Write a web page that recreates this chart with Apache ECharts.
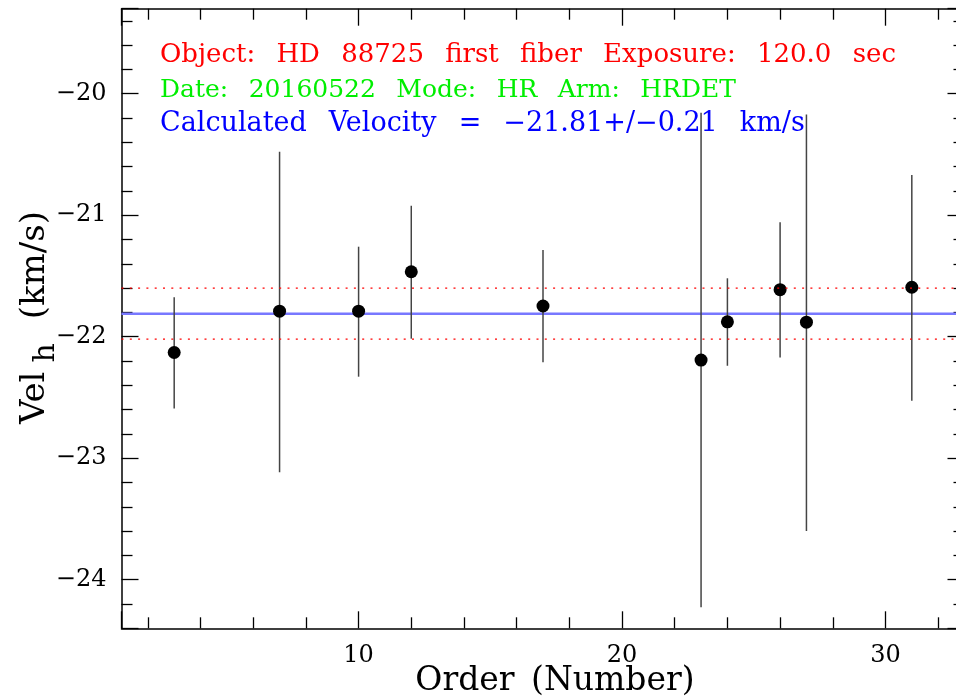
<!DOCTYPE html>
<html><head><meta charset="utf-8">
<script src="https://cdn.jsdelivr.net/npm/echarts@6/dist/echarts.min.js"></script>
<style>html,body{margin:0;padding:0;background:#fff}#c{width:956px;height:698px}</style>
</head><body><div id="c"></div>
<script>
// ---- data ----
const orders     = [3, 7, 10, 12, 17, 23, 24, 26, 27, 31];
const velocities = [-22.13, -21.79, -21.79, -21.465, -21.747, -22.192, -21.877, -21.613, -21.88, -21.593];
const errLow     = [-22.59, -23.116, -22.329, -22.016, -22.211, -24.227, -22.239, -22.170, -23.60, -22.527];
const errHigh    = [-21.676, -20.477, -21.259, -20.922, -21.286, -20.156, -21.519, -21.058, -20.17, -20.669];
const meanVel = -21.81;
const meanErr = 0.21;
const xRange = [1, 33];
const yRange = [-24.4, -19.3];
const xTickValues = [10, 20, 30];
const xTickLabels = ['10', '20', '30'];
const yTickValues = [-24, -23, -22, -21, -20];
const yTickLabels = ['\u221224', '\u221223', '\u221222', '\u221221', '\u221220'];
const infoLines = [
  'Object: HD 88725 first fiber Exposure: 120.0 sec',
  'Date: 20160522 Mode: HR Arm: HRDET',
  'Calculated Velocity = \u221221.81+/\u22120.21 km/s'
];
const xName = 'Order (Number)';
const yNameMain = 'Vel', yNameSub = 'h', yNameUnit = '(km/s)';

const SERIF = '"DejaVu Serif", "Liberation Serif", serif';
const SP = '\u2002 ';
const wide = s => s.replace(/ /g, SP);

const mctx = document.createElement('canvas').getContext('2d');
function textW(t, f) { mctx.font = f; return mctx.measureText(t).width; }

function fmtX(v) { const i = xTickValues.indexOf(v); return i >= 0 ? xTickLabels[i] : ''; }
function fmtY(v) {
  const i = yTickValues.findIndex(t => Math.abs(t - v) < 1e-6);
  return i >= 0 ? yTickLabels[i] : '';
}

function axis(kind, pos, showLabel) {
  const isX = kind === 'x';
  const r = isX ? xRange : yRange;
  return {
    type: 'value', gridIndex: 0, position: pos,
    min: r[0], max: r[1],
    minInterval: isX ? 10 : 1, maxInterval: isX ? 10 : 1,
    splitNumber: isX ? 3 : 5,
    axisLine: { show: true, onZero: false, lineStyle: { color: '#000', width: 1.5 } },
    axisTick: { show: true, inside: true, length: 17, lineStyle: { color: '#000', width: 1.3 } },
    minorTick: { show: true, splitNumber: 5, length: 11, lineStyle: { color: '#000', width: 1.3 } },
    splitLine: { show: false }, minorSplitLine: { show: false },
    axisLabel: {
      show: showLabel, showMinLabel: false, showMaxLabel: false,
      margin: 15, color: '#000', fontFamily: SERIF, fontSize: 24,
      formatter: isX ? fmtX : fmtY
    }
  };
}

// y-axis title pieces (rotated, reading upwards)
const YF = '34px ' + SERIF, YFS = '30px ' + SERIF;
const yStart = 424;
const yVelEnd = yStart - textW(yNameMain, YF);
const ySubStart = yVelEnd - 9;
const ySubEnd = ySubStart - textW(yNameSub, YFS);
const yUnitStart = ySubEnd - 24;

// horizontal reference lines: [value, kind]
const refLines = [
  [meanVel, 0],
  [meanVel + meanErr, 1],
  [meanVel - meanErr, 1]
];
const refStyles = [
  { stroke: '#7878ff', lineWidth: 2.5 },
  { stroke: '#ff0000', lineWidth: 1.2, lineDash: [2, 6.3] }
];

function hLineSeries(kindFilter, z) {
  return {
    type: 'custom', xAxisIndex: 0, yAxisIndex: 0, silent: true, z: z,
    data: refLines.filter(d => d[1] === kindFilter),
    encode: { y: 0 },
    renderItem: (params, api) => {
      const v = api.value(0);
      const a = api.coord([xRange[0], v]);
      const b = api.coord([xRange[1], v]);
      return { type: 'line', shape: { x1: a[0], y1: a[1], x2: b[0], y2: b[1] },
               style: Object.assign({}, refStyles[api.value(1)]) };
    }
  };
}

const chart = echarts.init(document.getElementById('c'), null, { renderer: 'canvas' });
chart.setOption({
  animation: false,
  backgroundColor: '#fff',
  grid: { left: 121.5, top: 8.7, width: 843, height: 619.6, containLabel: false, outerBoundsMode: 'none' },
  xAxis: [axis('x', 'bottom', true), axis('x', 'top', false)],
  yAxis: [axis('y', 'left', true), axis('y', 'right', false)],
  series: [
    hLineSeries(0, 1),
    {
      type: 'custom', xAxisIndex: 0, yAxisIndex: 0, silent: true, z: 2,
      data: orders.map((o, i) => [o, errLow[i], errHigh[i]]),
      encode: { x: 0, y: [1, 2] },
      renderItem: (params, api) => {
        const lo = api.coord([api.value(0), api.value(1)]);
        const hi = api.coord([api.value(0), api.value(2)]);
        return { type: 'line', shape: { x1: lo[0], y1: lo[1], x2: hi[0], y2: hi[1] },
                 style: { stroke: '#444', lineWidth: 1.5 } };
      }
    },
    {
      type: 'scatter', xAxisIndex: 0, yAxisIndex: 0, silent: true, z: 3,
      symbol: 'circle', symbolSize: 13,
      itemStyle: { color: '#000', opacity: 1 },
      emphasis: { disabled: true },
      data: orders.map((o, i) => [o, velocities[i]])
    },
    hLineSeries(1, 4)
  ],
  graphic: [
    { type: 'text', x: 160, y: 55, z: 20, style: { text: wide(infoLines[0]), fill: '#ff0000', font: '26px ' + SERIF, textAlign: 'left', textVerticalAlign: 'middle', align: 'left', verticalAlign: 'middle' } },
    { type: 'text', x: 160, y: 90.5, z: 20, style: { text: wide(infoLines[1]), fill: '#00ee00', font: '25px ' + SERIF, textAlign: 'left', textVerticalAlign: 'middle', align: 'left', verticalAlign: 'middle' } },
    { type: 'text', x: 160, y: 124, z: 20, style: { text: wide(infoLines[2]), fill: '#0000ff', font: '27px ' + SERIF, textAlign: 'left', textVerticalAlign: 'middle', align: 'left', verticalAlign: 'middle' } },
    { type: 'text', x: 555, y: 681, z: 20, style: { text: xName.replace(' ', '\u2002'), fill: '#000', font: '33px ' + SERIF, textAlign: 'center', textVerticalAlign: 'middle', align: 'center', verticalAlign: 'middle' } },
    { type: 'text', x: 35, y: yStart, rotation: Math.PI / 2, z: 20, style: { text: yNameMain, fill: '#000', font: YF, textAlign: 'left', textVerticalAlign: 'middle', align: 'left', verticalAlign: 'middle' } },
    { type: 'text', x: 46, y: ySubStart, rotation: Math.PI / 2, z: 20, style: { text: yNameSub, fill: '#000', font: YFS, textAlign: 'left', textVerticalAlign: 'middle', align: 'left', verticalAlign: 'middle' } },
    { type: 'text', x: 35, y: yUnitStart, rotation: Math.PI / 2, z: 20, style: { text: yNameUnit, fill: '#000', font: YF, textAlign: 'left', textVerticalAlign: 'middle', align: 'left', verticalAlign: 'middle' } }
  ]
});
</script>
</body></html>
